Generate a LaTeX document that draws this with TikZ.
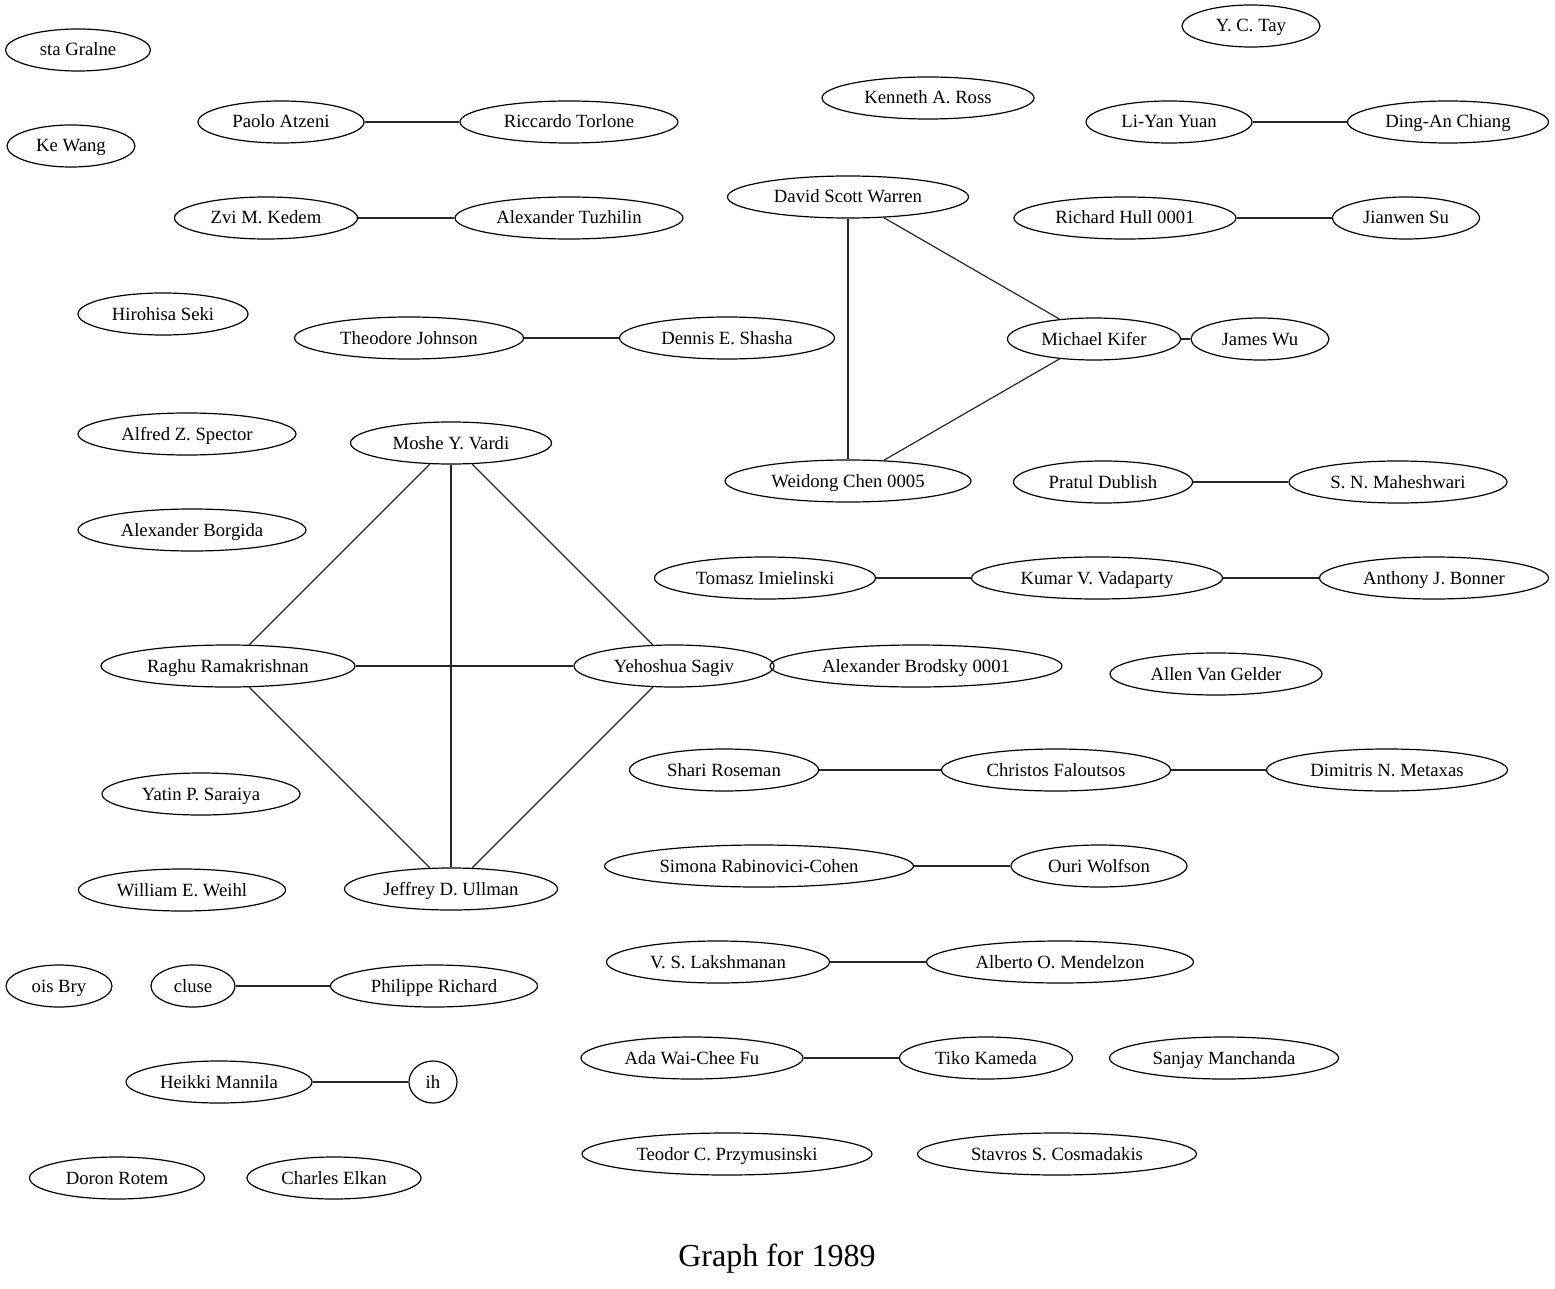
\documentclass[tikz,border=0pt]{standalone}
\usepackage{fontspec}
\setmainfont{Liberation Serif}
\usetikzlibrary{shapes.geometric}
\begin{document}
\begin{tikzpicture}[x=1pt,y=-1pt,
  person/.style={draw,ellipse,inner sep=0pt,minimum height=42pt,line width=1.2pt,
    text height=16pt,text depth=4pt,
    font=\fontsize{18.7pt}{22pt}\selectfont},
  link/.style={line width=1.2pt,draw=black!85}]
\useasboundingbox (0,0) rectangle (1555,1289);
% left column
\node[person,minimum width=145pt] (gra) at (78,50) {sta Gralne};
\node[person,minimum width=128pt] (kew) at (71,146) {Ke Wang};
\node[person,minimum width=166pt] (atz) at (281,122) {Paolo Atzeni};
\node[person,minimum width=218pt] (tor) at (569,122) {Riccardo Torlone};
\node[person,minimum width=183pt] (ked) at (266,218) {Zvi M. Kedem};
\node[person,minimum width=228pt] (tuz) at (569,218) {Alexander Tuzhilin};
\node[person,minimum width=170pt] (sek) at (163,314) {Hirohisa Seki};
\node[person,minimum width=229pt] (joh) at (409,338) {Theodore Johnson};
\node[person,minimum width=215pt] (sha) at (727,338) {Dennis E. Shasha};
\node[person,minimum width=218pt] (spe) at (187,434) {Alfred Z. Spector};
\node[person,minimum width=201pt] (var) at (451,443) {Moshe Y. Vardi};
\node[person,minimum width=228pt] (bor) at (192,530) {Alexander Borgida};
\node[person,minimum width=254pt] (ram) at (228,666) {Raghu Ramakrishnan};
\node[person,minimum width=200pt] (sag) at (674,666) {Yehoshua Sagiv};
\node[person,minimum width=292pt] (bro) at (916,666) {Alexander Brodsky 0001};
\node[person,minimum width=198pt] (sar) at (201,794) {Yatin P. Saraiya};
\node[person,minimum width=207pt] (wei) at (182,890) {William E. Weihl};
\node[person,minimum width=213pt] (ull) at (451,889) {Jeffrey D. Ullman};
\node[person,minimum width=106pt] (bry) at (59,986) {ois Bry};
\node[person,minimum width=84pt] (clu) at (193,986) {cluse};
\node[person,minimum width=207pt] (ric) at (434,986) {Philippe Richard};
\node[person,minimum width=186pt] (man) at (219,1082) {Heikki Mannila};
\node[person,minimum width=48pt] (ih) at (433,1082) {ih};
\node[person,minimum width=175pt] (rot) at (117,1178) {Doron Rotem};
\node[person,minimum width=174pt] (elk) at (334,1178) {Charles Elkan};
% middle and right
\node[person,minimum width=212pt] (ros) at (928,98) {Kenneth A. Ross};
\node[person,minimum width=241pt] (war) at (848,197) {David Scott Warren};
\node[person,minimum width=246pt] (che) at (848,481) {Weidong Chen 0005};
\node[person,minimum width=173pt] (kif) at (1094,339) {Michael Kifer};
\node[person,minimum width=138pt] (wu) at (1260,339) {James Wu};
\node[person,minimum width=138pt] (tay) at (1251,26) {Y. C. Tay};
\node[person,minimum width=166pt] (yua) at (1169,122) {Li-Yan Yuan};
\node[person,minimum width=201pt] (chi) at (1448,122) {Ding-An Chiang};
\node[person,minimum width=222pt] (hul) at (1125,218) {Richard Hull 0001};
\node[person,minimum width=147pt] (su) at (1406,218) {Jianwen Su};
\node[person,minimum width=179pt] (dub) at (1103,482) {Pratul Dublish};
\node[person,minimum width=218pt] (mah) at (1398,482) {S. N. Maheshwari};
\node[person,minimum width=221pt] (imi) at (765,578) {Tomasz Imielinski};
\node[person,minimum width=251pt] (vad) at (1097,578) {Kumar V. Vadaparty};
\node[person,minimum width=229pt] (bon) at (1434,578) {Anthony J. Bonner};
\node[person,minimum width=212pt] (gel) at (1216,674) {Allen Van Gelder};
\node[person,minimum width=189pt] (rsm) at (724,770) {Shari Roseman};
\node[person,minimum width=229pt] (fal) at (1056,770) {Christos Faloutsos};
\node[person,minimum width=241pt] (met) at (1387,770) {Dimitris N. Metaxas};
\node[person,minimum width=309pt] (rab) at (759,866) {Simona Rabinovici-Cohen};
\node[person,minimum width=176pt] (wol) at (1099,866) {Ouri Wolfson};
\node[person,minimum width=223pt] (lak) at (718,962) {V. S. Lakshmanan};
\node[person,minimum width=267pt] (men) at (1060,962) {Alberto O. Mendelzon};
\node[person,minimum width=222pt] (fu) at (692,1058) {Ada Wai-Chee Fu};
\node[person,minimum width=173pt] (kam) at (986,1058) {Tiko Kameda};
\node[person,minimum width=229pt] (mch) at (1224,1058) {Sanjay Manchanda};
\node[person,minimum width=290pt] (prz) at (727,1154) {Teodor C. Przymusinski};
\node[person,minimum width=279pt] (cos) at (1057,1154) {Stavros S. Cosmadakis};
% caption
\node[font=\fontsize{32pt}{38pt}\selectfont,inner sep=0pt,text height=22pt,text depth=6pt] (title) at (777,1258) {Graph for 1989};
% co-author links
\draw[link] (atz) -- (tor);
\draw[link] (ked) -- (tuz);
\draw[link] (joh) -- (sha);
\draw[link] (var) -- (ram);
\draw[link] (var) -- (ull);
\draw[link] (var) -- (sag);
\draw[link] (ram) -- (sag);
\draw[link] (ram) -- (ull);
\draw[link] (sag) -- (ull);
\draw[link] (clu) -- (ric);
\draw[link] (man) -- (ih);
\draw[link] (war) -- (che);
\draw[link] (war) -- (kif);
\draw[link] (kif) -- (che);
\draw[link] (kif) -- (wu);
\draw[link] (yua) -- (chi);
\draw[link] (hul) -- (su);
\draw[link] (dub) -- (mah);
\draw[link] (imi) -- (vad);
\draw[link] (vad) -- (bon);
\draw[link] (rsm) -- (fal);
\draw[link] (fal) -- (met);
\draw[link] (rab) -- (wol);
\draw[link] (lak) -- (men);
\draw[link] (fu) -- (kam);
\end{tikzpicture}
\end{document}
